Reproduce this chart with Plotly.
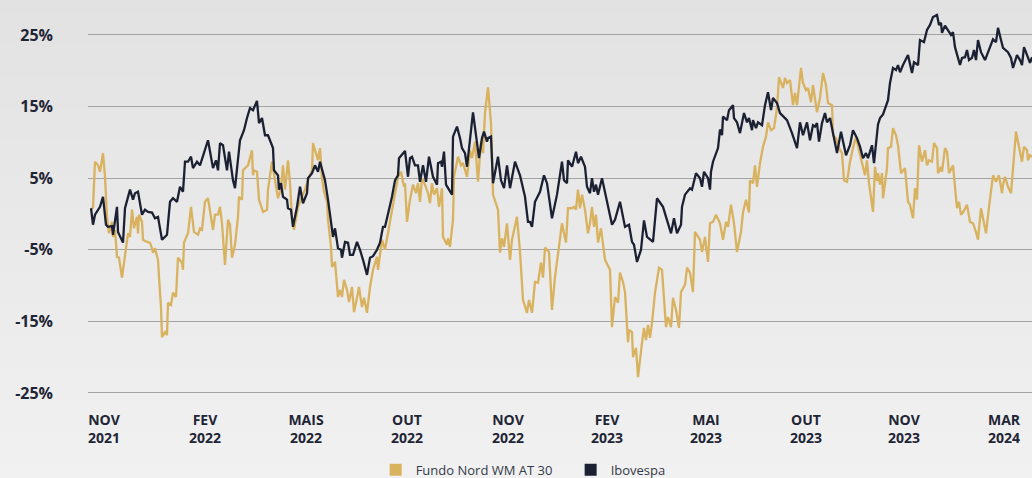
import plotly.graph_objects as go

# --- data (session index, % return) ---
fundo_x = [0, 2, 4, 7, 9, 12, 14, 16, 18, 21, 22, 24, 26, 28, 31, 34, 36, 37, 39, 41, 43, 46, 47, 48, 51, 52, 56, 59, 61, 62, 64, 67, 68, 70, 71, 74, 76, 77, 80, 82, 85, 87, 91, 92, 93, 97, 100, 103, 107, 109, 111, 114, 117, 119, 122, 124, 127, 129, 131, 134, 137, 139, 141, 144, 147, 148, 151, 152, 154, 157, 161, 162, 163, 166, 168, 172, 176, 177, 181, 183, 186, 187, 190, 192, 194, 197, 199, 201, 203, 207, 211, 214, 217, 221, 222, 225, 227, 229, 231, 233, 236, 237, 240, 241, 244, 247, 249, 251, 253, 256, 258, 261, 263, 266, 268, 271, 273, 276, 279, 282, 286, 287, 289, 291, 294, 297, 301, 304, 307, 310, 313, 314, 316, 319, 322, 325, 327, 329, 331, 334, 337, 339, 341, 343, 346, 348, 351, 352, 356, 357, 359, 362, 363, 367, 370, 372, 376, 379, 381, 384, 387, 390, 392, 394, 397, 400, 401, 402, 407, 409, 411, 413, 416, 419, 421, 426, 429, 432, 436, 438, 441, 444, 447, 450, 452, 454, 458, 461, 464, 467, 471, 473, 475, 477, 481, 483, 485, 487, 489, 491, 494, 497, 499, 501, 503, 505, 507, 510, 514, 519, 521, 524, 527, 529, 532, 534, 535, 537, 538, 541, 542, 545, 547, 549, 551, 553, 555, 557, 559, 561, 564, 568, 571, 575, 577, 580, 582, 585, 588, 590, 594, 596, 599, 602, 604, 609, 611, 614, 617, 619, 622, 625, 627, 629, 632, 635, 637, 640, 643, 646, 650, 652, 655, 658, 659, 662, 664, 666, 669, 672, 675, 677, 680, 683, 686, 688, 692, 694, 696, 699, 702, 704, 706, 710, 712, 715, 717, 720, 722, 726, 729, 732, 735, 737, 741, 742, 745, 748, 751, 753, 756, 759, 762, 765, 768, 771, 774, 776, 778, 782, 784, 786, 787, 789, 791, 792, 796, 797, 800, 802, 805, 807, 810, 814, 817, 819, 822, 824, 826, 828, 831, 834, 836, 838, 841, 843, 846, 847, 850, 851, 854, 856, 858, 862, 866, 868, 870, 872, 876, 879, 882, 885, 887, 890, 892, 895, 898, 902, 905, 908, 911, 912, 914, 917, 920, 925, 927, 931, 933, 936, 937, 939, 941]
fundo_y = [0.6, 0.9, 7.3, 6.8, 5.9, 8.5, 5.2, -0.4, -2.7, -1.1, -3.2, -2.2, -6.0, -6.1, -8.9, -5.7, -3.2, -2.7, -3.2, 0.6, -2.0, -0.4, -2.7, -0.1, -1.1, -3.6, -3.9, -4.0, -4.8, -5.4, -4.8, -6.4, -8.8, -13.0, -17.2, -16.5, -16.9, -12.4, -12.7, -11.0, -11.6, -6.1, -6.8, -7.8, -4.0, -2.7, 1.0, -2.5, -2.9, -2.0, -2.2, 1.7, 2.2, 0.2, -2.2, -0.1, -0.1, 1.0, -1.3, -7.1, -0.8, -1.5, -6.1, -4.3, -0.4, 2.4, 2.0, 6.1, 6.4, 6.8, 8.9, 5.4, 6.1, 5.9, 2.0, 0.3, 0.6, 3.4, 7.3, 5.4, 2.9, 2.2, 3.6, 6.8, 3.4, 7.5, 4.3, -0.6, -2.2, 1.0, 2.4, 3.4, 4.7, 6.1, 9.9, 8.2, 7.5, 9.2, 5.0, 3.1, 1.7, -0.8, -4.6, -7.4, -6.7, -11.6, -10.6, -11.6, -9.2, -10.6, -12.3, -10.2, -13.7, -11.7, -10.2, -13.0, -11.7, -13.8, -10.2, -7.8, -6.0, -7.8, -5.4, -3.6, -5.0, -2.7, 0.3, 2.4, 5.2, 5.9, 3.8, 4.3, -1.1, 2.0, 4.1, 2.9, 4.3, 1.7, 5.0, 4.1, 2.9, 1.5, 4.3, 2.7, 3.6, 1.0, 3.6, -3.2, -4.3, -3.4, -4.6, -0.8, 5.2, 8.0, 6.8, 7.1, 5.2, 8.9, 7.8, 10.1, 4.5, 10.1, 8.5, 14.1, 17.7, 12.7, 8.5, 2.7, 0.6, -5.4, -3.4, -4.6, -1.3, -6.4, -3.6, -0.4, -5.3, -12.0, -13.8, -12.0, -13.8, -9.5, -9.6, -6.8, -8.9, -4.7, -5.3, -13.4, -8.8, -5.3, -1.3, -2.7, -4.0, 0.8, 0.8, 1.0, 0.6, 3.4, 0.8, 2.7, 0.6, -2.7, -1.3, 1.0, -1.8, -0.1, -4.0, -2.0, -6.4, -7.8, -15.8, -11.6, -12.4, -8.2, -9.5, -10.9, -13.8, -17.9, -16.2, -16.5, -20.0, -18.7, -22.8, -20.1, -18.0, -15.9, -17.6, -15.5, -17.3, -15.2, -11.0, -7.5, -7.8, -15.8, -14.4, -15.8, -11.7, -13.4, -15.9, -10.9, -9.9, -7.5, -8.2, -10.9, -2.5, -3.6, -5.3, -3.2, -6.7, -1.3, -1.1, -0.1, -0.8, -1.3, -3.6, -1.1, -1.8, 1.3, -1.3, -5.3, -2.5, 0.2, 2.0, 0.2, 4.7, 4.3, 6.8, 3.8, 7.1, 9.4, 10.8, 12.8, 11.7, 12.0, 14.8, 19.1, 17.6, 19.0, 18.3, 18.7, 15.2, 16.9, 15.2, 20.4, 18.3, 17.3, 17.6, 15.6, 18.0, 14.2, 16.2, 19.7, 18.0, 15.5, 15.2, 11.0, 10.6, 9.2, 8.5, 4.7, 4.5, 7.3, 9.2, 10.8, 8.9, 7.1, 5.4, 7.5, 4.3, 0.3, 6.6, 4.6, 5.7, 4.1, 5.7, 2.2, 6.4, 9.2, 9.4, 12.0, 11.0, 9.6, 5.7, 6.4, 1.7, 1.3, -0.6, 3.6, 2.0, 9.6, 7.3, 8.9, 6.8, 7.5, 7.3, 9.9, 9.2, 5.7, 6.6, 5.9, 9.2, 8.7, 5.7, 6.8, 0.8, 1.7, -0.1, 0.2, 1.3, -1.1, -1.3, -2.5, -3.6, 0.8, -0.8, -2.7, 1.0, 5.4, 4.5, 5.4, 2.9, 4.1, 5.2, 3.8, 2.9, 11.5, 10.1, 7.3, 9.4, 8.9, 7.5, 8.2, 8.0]

ibov_x = [0, 2, 4, 9, 12, 15, 17, 21, 22, 26, 27, 32, 34, 39, 42, 44, 47, 49, 51, 54, 57, 61, 64, 67, 71, 76, 79, 82, 86, 89, 92, 94, 97, 100, 102, 106, 109, 117, 122, 125, 127, 129, 132, 136, 138, 142, 144, 149, 153, 156, 159, 162, 166, 168, 171, 174, 177, 182, 183, 187, 188, 190, 192, 196, 197, 200, 202, 206, 209, 212, 216, 217, 221, 224, 227, 229, 234, 237, 241, 242, 244, 247, 250, 251, 254, 257, 259, 262, 266, 269, 272, 276, 279, 282, 286, 289, 292, 294, 301, 304, 307, 308, 314, 317, 319, 321, 324, 327, 329, 332, 335, 338, 342, 346, 347, 350, 351, 353, 355, 361, 362, 366, 369, 371, 374, 376, 382, 386, 388, 391, 393, 396, 397, 400, 402, 407, 410, 413, 416, 419, 424, 429, 434, 437, 439, 441, 444, 449, 451, 453, 456, 461, 466, 471, 473, 476, 477, 481, 485, 487, 490, 494, 496, 499, 501, 503, 505, 507, 511, 515, 517, 521, 524, 529, 534, 538, 541, 543, 546, 550, 553, 556, 562, 566, 572, 576, 580, 583, 586, 590, 591, 594, 599, 601, 605, 609, 611, 613, 617, 619, 620, 622, 627, 629, 631, 632, 636, 638, 642, 643, 646, 649, 653, 656, 658, 661, 662, 665, 667, 671, 674, 677, 680, 682, 686, 689, 696, 701, 706, 709, 712, 716, 719, 722, 724, 726, 728, 731, 734, 736, 739, 742, 746, 750, 752, 755, 759, 762, 766, 769, 772, 775, 777, 781, 783, 787, 789, 792, 797, 799, 802, 805, 807, 809, 812, 817, 821, 823, 827, 829, 833, 836, 839, 842, 846, 848, 850, 851, 854, 857, 860, 862, 864, 867, 869, 871, 874, 876, 878, 881, 883, 885, 887, 890, 894, 899, 902, 905, 907, 910, 912, 917, 920, 922, 926, 929, 931, 933, 937, 939, 941]
ibov_y = [0.8, -1.5, -0.1, 1.0, 2.4, -1.5, -1.8, -1.7, -2.9, 1.0, -2.5, -4.0, 0.8, 3.4, 2.0, 2.9, 3.1, 1.7, -0.1, 0.6, 0.3, 0.2, -0.6, -0.4, -3.6, -2.9, 1.7, 2.2, 1.7, 3.8, 3.1, 7.3, 7.3, 8.0, 6.4, 7.3, 6.8, 10.3, 6.4, 7.5, 6.1, 9.9, 9.6, 6.1, 8.7, 4.7, 3.6, 10.3, 11.7, 13.4, 14.8, 14.5, 15.8, 12.7, 13.4, 11.0, 11.0, 9.2, 6.1, 5.4, 3.4, 4.3, 2.4, 2.0, 0.8, 0.6, -1.8, 1.0, 3.8, 1.5, 2.9, 5.0, 5.7, 6.8, 5.9, 7.3, 4.7, 2.0, -2.2, -3.2, -2.0, -4.8, -5.0, -6.1, -3.9, -4.0, -5.7, -5.7, -3.9, -5.0, -6.4, -8.5, -6.1, -5.9, -5.0, -4.0, -1.8, -1.8, 2.4, 4.7, 5.4, 7.8, 8.8, 5.2, 7.8, 8.0, 6.8, 6.8, 4.5, 6.8, 4.5, 8.0, 5.2, 4.1, 7.1, 7.3, 6.6, 8.7, 4.1, 2.7, 10.8, 12.2, 10.6, 9.2, 8.5, 6.6, 14.2, 10.1, 7.8, 10.6, 11.5, 10.1, 10.6, 10.8, 4.3, 8.0, 4.7, 3.6, 6.8, 3.6, 7.3, 5.4, 2.4, -1.1, -1.1, -1.8, 1.7, 3.1, 4.5, 5.4, 4.3, -0.6, 2.7, 7.3, 4.7, 4.3, 7.5, 6.6, 8.7, 7.1, 8.0, 6.6, 3.8, 2.9, 5.0, 3.1, 4.1, 2.7, 5.0, 2.2, 0.8, -1.5, -0.8, 1.7, -1.8, -1.5, -3.9, -4.3, -6.7, -5.0, -0.9, -3.2, -3.9, 2.2, 1.0, -0.8, -2.7, -0.6, -2.7, -1.5, 1.0, 2.7, 3.6, 3.4, 5.7, 5.0, 3.8, 5.9, 5.0, 3.4, 5.9, 7.3, 9.2, 11.8, 11.0, 13.6, 13.1, 14.5, 15.2, 13.4, 12.8, 11.3, 14.1, 12.8, 13.4, 11.7, 13.1, 12.0, 12.8, 12.4, 15.2, 17.0, 14.5, 16.2, 15.5, 14.1, 13.1, 11.3, 9.2, 12.8, 11.0, 12.8, 10.3, 12.4, 12.2, 12.7, 10.1, 12.7, 14.1, 12.8, 13.4, 11.3, 8.5, 11.5, 10.1, 8.2, 9.6, 11.7, 10.6, 9.4, 7.8, 8.5, 7.8, 9.6, 7.1, 12.5, 13.4, 13.9, 15.9, 18.3, 20.4, 20.1, 20.8, 19.8, 20.8, 22.2, 19.7, 21.2, 20.8, 24.3, 24.0, 25.7, 26.4, 27.5, 27.8, 26.4, 26.7, 25.3, 26.3, 25.7, 25.0, 25.4, 23.3, 21.8, 20.8, 21.8, 21.9, 22.9, 21.5, 21.8, 22.9, 21.5, 24.3, 22.6, 21.5, 23.3, 24.4, 24.0, 26.0, 24.3, 23.2, 22.6, 21.8, 20.4, 22.2, 21.5, 20.8, 23.3, 21.9, 21.1, 21.9]

tick_pos = [13, 114, 215, 316, 417, 516, 615, 715, 813, 913]
tick_labels = ["NOV<br>2021", "FEV<br>2022", "MAIS<br>2022", "OUT<br>2022", "NOV<br>2022",
               "FEV<br>2023", "MAI<br>2023", "OUT<br>2023", "NOV<br>2023", "MAR<br>2024"]
y_ticks = [-25, -15, -5, 5, 15, 25]
y_labels = [f"{v}%" for v in y_ticks]

GOLD = "#d9b25f"
NAVY = "#1b2132"
TXT = "#1f2535"

fig = go.Figure()
fig.add_trace(go.Scatter(x=fundo_x, y=fundo_y, mode="lines", line=dict(color=GOLD, width=2.3),
                         showlegend=False, hoverinfo="skip"))
fig.add_trace(go.Scatter(x=ibov_x, y=ibov_y, mode="lines", line=dict(color=NAVY, width=2.3),
                         showlegend=False, hoverinfo="skip"))
# legend entries (square swatches)
fig.add_trace(go.Scatter(x=[None], y=[None], mode="markers", name="Fundo Nord WM AT 30",
                         marker=dict(symbol="square", size=12, color=GOLD)))
fig.add_trace(go.Scatter(x=[None], y=[None], mode="markers", name="Ibovespa",
                         marker=dict(symbol="square", size=12, color=NAVY)))

# subtle vertical background gradient
shapes = []
n = 30
top = (0xe2, 0xe2, 0xe2)
bot = (0xf1, 0xf1, 0xf1)
y_top, y_bot = 1.03, -0.21
for i in range(n):
    t = i / (n - 1)
    c = tuple(round(top[k] + (bot[k] - top[k]) * t) for k in range(3))
    y1 = y_top - (y_top - y_bot) * i / n
    y0 = y_top - (y_top - y_bot) * (i + 1) / n
    shapes.append(dict(type="rect", xref="paper", yref="paper", x0=-0.1, x1=1.01,
                       y0=y0 - 0.002, y1=y1 + 0.002, line=dict(width=0),
                       fillcolor="rgb(%d,%d,%d)" % c, layer="below"))

fig.update_layout(
    width=1032, height=478,
    margin=dict(l=88, r=0, t=10, b=78),
    paper_bgcolor="#eaeaea",
    plot_bgcolor="rgba(0,0,0,0)",
    shapes=shapes,
    font=dict(family="Open Sans", color=TXT),
    xaxis=dict(range=[-3, 941], tickvals=tick_pos, ticktext=tick_labels, showgrid=False,
               zeroline=False, showline=False, ticks="", ticklabelstandoff=10,
               tickfont=dict(family="Open Sans", size=14, color=TXT, weight=700)),
    yaxis=dict(range=[-25.98, 28.49], tickvals=y_ticks, ticktext=y_labels, showgrid=True,
               gridcolor="#a3a3a3", gridwidth=1.3, zeroline=False, showline=False, ticks="",
               ticklabelstandoff=34,
               tickfont=dict(family="Open Sans", size=16, color=TXT, weight=700)),
    legend=dict(orientation="h", xref="container", yref="container", x=0.364, y=0.017,
                xanchor="left", yanchor="middle", bgcolor="rgba(0,0,0,0)",
                font=dict(family="Open Sans", size=13, color="#333a48"),
                entrywidth=150, entrywidthmode="pixels", itemsizing="constant"),
)

fig.write_html(
    "out.html",
    config={"displayModeBar": False},
    post_script="document.body.style.margin='0px';document.body.style.overflow='hidden';"
                "document.body.style.background='#eaeaea';",
)
